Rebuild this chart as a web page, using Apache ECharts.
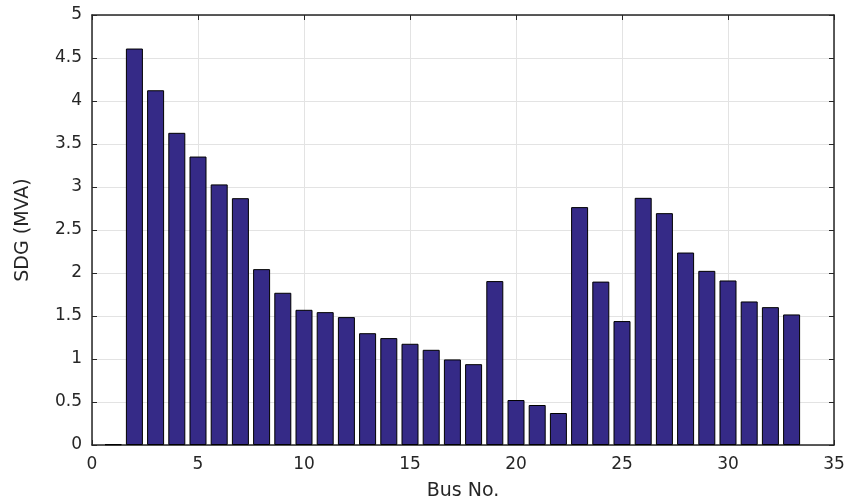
<!DOCTYPE html>
<html><head><meta charset="utf-8">
<script src="https://cdn.jsdelivr.net/npm/echarts@6/dist/echarts.min.js"></script>
<style>html,body{margin:0;padding:0;background:#fff}#c{width:859px;height:501px}</style>
</head><body><div id="c"></div>
<script>
const buses = [1,2,3,4,5,6,7,8,9,10,11,12,13,14,15,16,17,18,19,20,21,22,23,24,25,26,27,28,29,30,31,32,33];
const sdg = [0.008,4.61,4.125,3.63,3.354,3.03,2.87,2.045,1.77,1.572,1.545,1.487,1.30,1.243,1.177,1.107,0.995,0.94,1.906,0.523,0.465,0.372,2.766,1.90,1.441,2.874,2.696,2.238,2.025,1.913,1.669,1.603,1.518];
const xTicks = [0,5,10,15,20,25,30,35];
const yTicks = [0,0.5,1,1.5,2,2.5,3,3.5,4,4.5,5];

const font = 'DejaVu Sans, Liberation Sans, sans-serif';
const axisLine = {show:true, onZero:false, lineStyle:{color:'#262626', width:1.5}};
const tick = {show:true, inside:true, length:5, lineStyle:{color:'#262626', width:1}};
const grid = {show:true, lineStyle:{color:'#e3e3e3', width:1}};
const chart = echarts.init(document.getElementById('c'));
chart.setOption({
  animation:false,
  grid:{left:92, right:25, top:15, bottom:56, containLabel:false, outerBoundsMode:'none'},
  xAxis:[{
    type:'value', position:'bottom', min:xTicks[0], max:xTicks[xTicks.length-1], interval:5,
    name:'Bus No.', nameLocation:'middle', nameGap:37,
    nameTextStyle:{fontFamily:font, fontSize:19, color:'#262626'},
    axisLine:axisLine, axisTick:tick, splitLine:grid,
    axisLabel:{fontFamily:font, fontSize:17, color:'#262626', margin:11}
  },{
    type:'value', position:'top', min:0, max:35, interval:5,
    axisLine:axisLine, axisTick:tick, splitLine:{show:false}, axisLabel:{show:false}
  }],
  yAxis:[{
    type:'value', position:'left', min:yTicks[0], max:yTicks[yTicks.length-1], interval:0.5,
    name:'SDG (MVA)', nameLocation:'middle', nameGap:59, nameRotate:90,
    nameTextStyle:{fontFamily:font, fontSize:19, color:'#262626'},
    axisLine:axisLine, axisTick:tick, splitLine:grid,
    axisLabel:{fontFamily:font, fontSize:17, color:'#262626', margin:10}
  },{
    type:'value', position:'right', min:0, max:5, interval:0.5,
    axisLine:axisLine, axisTick:tick, splitLine:{show:false}, axisLabel:{show:false}
  }],
  series:[{
    type:'bar', xAxisIndex:0, yAxisIndex:0, barWidth:17,
    data: buses.map((b,i)=>[b, sdg[i]]),
    itemStyle:{color:'#352a87', borderColor:'#000', borderWidth:1}
  }]
});
</script></body></html>
